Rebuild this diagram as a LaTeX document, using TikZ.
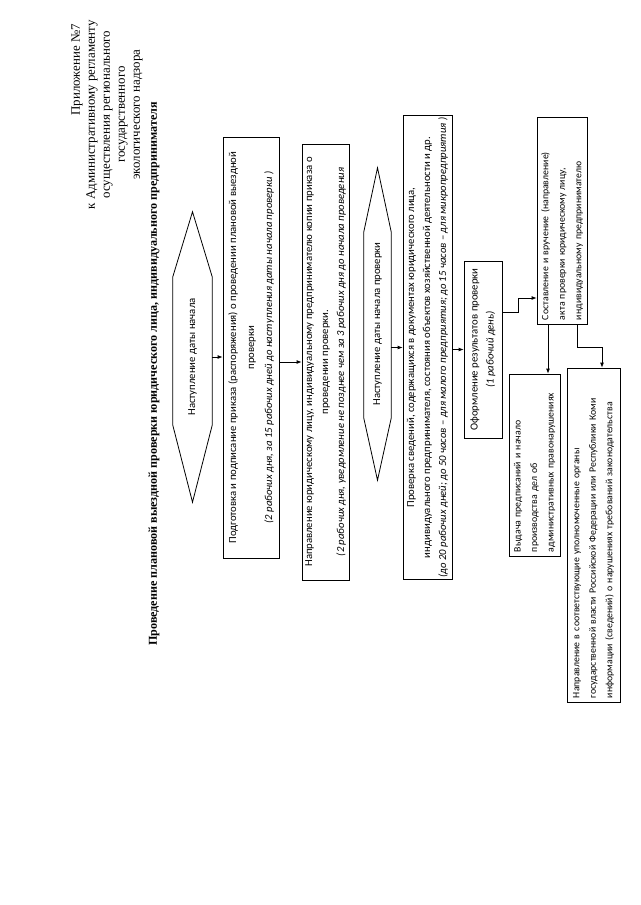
\documentclass[tikz,border=0pt]{standalone}
\usepackage{fontspec}
\setmainfont{Liberation Serif}
\newfontfamily\boxfont{Carlito}
\usetikzlibrary{arrows.meta}

\tikzset{
  blk/.style={draw, line width=0.8pt, rotate=90, inner sep=2pt, align=center,
    font=\boxfont\fontsize{10.7}{16}\selectfont},
  lblk/.style={blk, align=left, inner xsep=4pt, font=\boxfont\fontsize{9.8}{16.5}\selectfont},
  hexlbl/.style={rotate=90, inner sep=0pt, font=\boxfont\fontsize{10.7}{16}\selectfont},
  hexline/.style={draw, line width=0.8pt},
  hdr/.style={rotate=90, inner sep=0pt, font=\fontsize{12.9}{15}\selectfont},
  ttl/.style={rotate=90, inner sep=0pt, font=\bfseries\fontsize{12.1}{14}\selectfont},
  arr/.style={-{Latex[length=5pt,width=4pt]}, line width=0.8pt},
}

\begin{document}
\begin{tikzpicture}[x=1pt, y=-1pt]
  \useasboundingbox (0,0) rectangle (640,905);

  % header and title
  \node[hdr, anchor=east] (app) at (77,24) {Приложение №7};
  \node[hdr, anchor=east, align=center] (reg) at (114.5,20)
    {к Административному регламенту\\осуществления регионального\\государственного\\экологического надзора};
  \node[ttl] (title) at (154,374)
    {Проведение плановой выездной проверки юридического лица, индивидуального предпринимателя};

  % first trigger
  \node[hexlbl, minimum width=290pt, minimum height=39pt] (hx1) at (192.5,357) {Наступление даты начала};
  \draw[hexline] (hx1.east) -- ([yshift=-65pt]hx1.south east) -- ([yshift=77pt]hx1.south west)
    -- (hx1.west) -- ([yshift=77pt]hx1.north west) -- ([yshift=-65pt]hx1.north east) -- cycle;

  \node[blk, minimum width=421pt, minimum height=56pt, font=\boxfont\fontsize{10.7}{18}\selectfont] (b2) at (251,347.5)
    {Подготовка и подписание приказа (распоряжения) о проведении плановой выездной\\
     проверки\\
     \textit{(2 рабочих дня, за 15 рабочих дней до наступления даты начала проверки )}};
  \node[blk, minimum width=436pt, minimum height=47pt] (b3) at (325.5,362)
    {Направление юридическому лицу, индивидуальному предпринимателю копии приказа о\\
     проведении проверки.\\
     \textit{(2 рабочих дня, уведомление не позднее чем за 3 рабочих дня до начала проведения}};

  % second trigger
  \node[hexlbl, minimum width=312pt, minimum height=27pt] (hx2) at (377.5,324) {Наступление даты начала проверки};
  \draw[hexline] (hx2.east) -- ([yshift=-64pt]hx2.south east) -- ([yshift=62pt]hx2.south west)
    -- (hx2.west) -- ([yshift=62pt]hx2.north west) -- ([yshift=-64pt]hx2.north east) -- cycle;

  \node[blk, minimum width=461pt, minimum height=49pt] (b4) at (427.5,347.5)
    {Проверка сведений, содержащихся в документах юридического лица,\\
     индивидуального предпринимателя, состояния объектов хозяйственной деятельности и др.\\
     \textit{(до 20 рабочих дней; до 50 часов – для малого предприятия; до 15 часов – для микропредприятия )}};
  \node[blk, minimum width=177pt, minimum height=38pt] (b5) at (483,349.5)
    {Оформление результатов проверки\\\textit{(1 рабочий день)}};

  % results
  \node[lblk, text width=199pt, minimum height=50pt] (b6) at (562,220.5)
    {Составление и вручение (направление)\\акта проверки юридическому лицу,\\индивидуальному предпринимателю};
  \node[lblk, text width=174pt, minimum height=51pt] (b7) at (534.5,465)
    {Выдача предписаний и начало\\производства дел об\\административных правонарушениях};
  \node[lblk, text width=326pt, minimum height=53pt] (b8) at (593.5,535)
    {Направление в соответствующие уполномоченные органы\\государственной власти Российской Федерации или Республики Коми\\информации (сведений) о нарушениях требований законодательства};

  % connectors
  \draw[arr] (hx1.south) -- (hx1.south -| b2.north);
  \draw[arr] (b3.north -| b2.south) -- (b3.north);
  \draw[arr] (b4.north -| hx2.south) -- (b4.north);
  \draw[arr] (b5.north -| b4.south) -- (b5.north);
  \draw[arr] ([yshift=37pt]b5.south) -- ++(16,0) |- ([yshift=-77.5pt]b6.north);
  \draw[arr] ([xshift=-14pt]b6.west) -- ([xshift=-14pt]b6.west |- b7.east);
  \draw[arr] ([xshift=15pt]b6.west) -- ++(0,23) -| ([xshift=8.5pt]b8.east);
\end{tikzpicture}
\end{document}
